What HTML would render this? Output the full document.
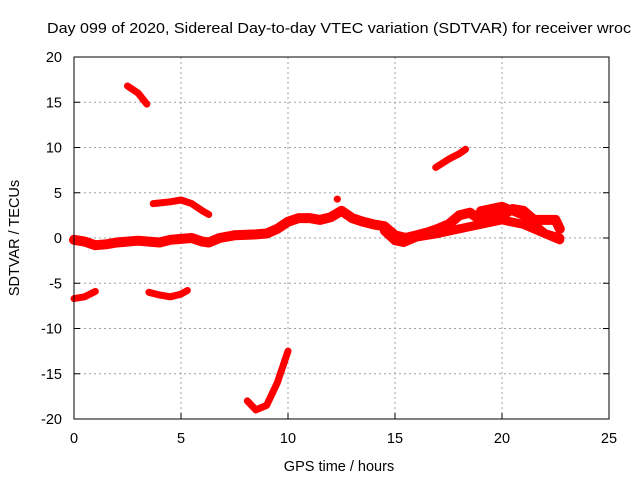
<!DOCTYPE html>
<html><head><meta charset="utf-8"><style>
body{margin:0;background:#fff}
svg{display:block;font-family:"Liberation Sans",sans-serif}
</style></head><body>
<svg id="c" width="640" height="480">
<text x="47" y="33" font-size="15" textLength="584" lengthAdjust="spacingAndGlyphs" fill="#000">Day 099 of 2020, Sidereal Day-to-day VTEC variation (SDTVAR) for receiver wroc</text>
<text x="339" y="471" font-size="14.5" text-anchor="middle">GPS time / hours</text>
<text transform="translate(19,238) rotate(-90)" font-size="14.5" text-anchor="middle">SDTVAR / TECUs</text>
<g id="grid"></g>
<g id="ticks"></g>
<g id="series"></g>
<rect x="74" y="57" width="535" height="362" fill="none" stroke="#000" stroke-width="1"/>
</svg>
<script>
const xTicks=[0,5,10,15,20,25];
const yTicks=[-20,-15,-10,-5,0,5,10,15,20];
const seg1=[[0,-0.2],[0.5,-0.4],[1,-0.8],[1.5,-0.7],[2,-0.5],[3,-0.3],[3.5,-0.4],[4,-0.5],[4.5,-0.2],[5,-0.1],[5.5,0],[6,-0.4],[6.3,-0.5],[6.8,0],[7.5,0.3],[8.5,0.4],[9,0.5],[9.5,1],[10,1.8],[10.5,2.2],[11,2.2],[11.5,2],[12,2.3],[12.5,3],[13,2.2],[13.5,1.8],[14,1.5],[14.5,1.3],[15,0.3],[15.5,0],[16,0.3],[16.5,0.6],[17,1],[17.5,1.5],[18,2.5],[18.5,2.8],[19,2],[19.5,2.2],[20,2.5],[20.5,3.2],[21,3],[21.5,2],[22,2],[22.5,2],[22.7,1]];
const seg2=[[14.5,0.8],[15,-0.3],[15.4,-0.5],[16,0.1],[17,0.5],[18,1],[19,1.5],[20,2],[21,1.5],[22,0.5],[22.7,0]];
const seg3=[[19,3],[20,3.5],[21,2.5],[22,0.5],[22.7,-0.2]];
const seg4=[[12.3,4.3],[12.31,4.3]];
const seg5=[[2.5,16.8],[3,16],[3.4,14.8]];
const seg6=[[3.7,3.8],[4.5,4],[5,4.2],[5.5,3.8],[6,3],[6.3,2.6]];
const seg7=[[0,-6.7],[0.5,-6.5],[1,-5.9]];
const seg8=[[3.5,-6],[4,-6.3],[4.5,-6.5],[5,-6.2],[5.3,-5.8]];
const seg9=[[16.9,7.8],[17.5,8.7],[18,9.3],[18.3,9.8]];
const seg10=[[8.1,-18],[8.5,-19],[9,-18.5],[9.5,-16],[10,-12.5]];
const segments=[seg1,seg2,seg3,seg4,seg5,seg6,seg7,seg8,seg9,seg10];
const widths=[10,9,9,7,7,7,7,7,7,7];
const X=v=>74+v*535/25, Y=v=>238-v*362/40;
const NS="http://www.w3.org/2000/svg";
const grid=document.getElementById('grid'),ticks=document.getElementById('ticks'),ser=document.getElementById('series');
function mk(tag,at,p){const e=document.createElementNS(NS,tag);for(const k in at)e.setAttribute(k,at[k]);p.appendChild(e);return e;}
xTicks.forEach(t=>{const x=X(t);
 if(t>0&&t<25){const g=mk('line',{x1:x,x2:x,y1:57,y2:419,stroke:'#a0a0a0','stroke-dasharray':'2,3'},grid);
 
 }
 const l=mk('line',{x1:x,x2:x,y1:419,y2:413,stroke:'#000'},ticks);
 
 
 const tx=mk('text',{x:x,y:443,'font-size':14.5,'text-anchor':'middle'},ticks);tx.textContent=t;
 
 
});
yTicks.forEach(t=>{const y=Y(t);
 if(t>-20&&t<20){const g=mk('line',{x1:74,x2:609,y1:y,y2:y,stroke:'#a0a0a0','stroke-dasharray':'2,3'},grid);
 
 }
 const l=mk('line',{x1:74,x2:80,y1:y,y2:y,stroke:'#000'},ticks);
 
 
 const r=mk('line',{x1:603,x2:609,y1:y,y2:y,stroke:'#000'},ticks);
 
 
 const tx=mk('text',{x:62,y:y+5,'font-size':14.5,'text-anchor':'end'},ticks);tx.textContent=t;
 
 
});
segments.forEach((s,i)=>{
 const d=s.map((p,j)=>(j?'L':'M')+X(p[0]).toFixed(1)+','+Y(p[1]).toFixed(1)).join('');
 const p=mk('path',{d:d,fill:'none',stroke:'#ff0000','stroke-width':widths[i],'stroke-linejoin':'round','stroke-linecap':'round'},ser);
 
 
});
</script>
</body></html>
